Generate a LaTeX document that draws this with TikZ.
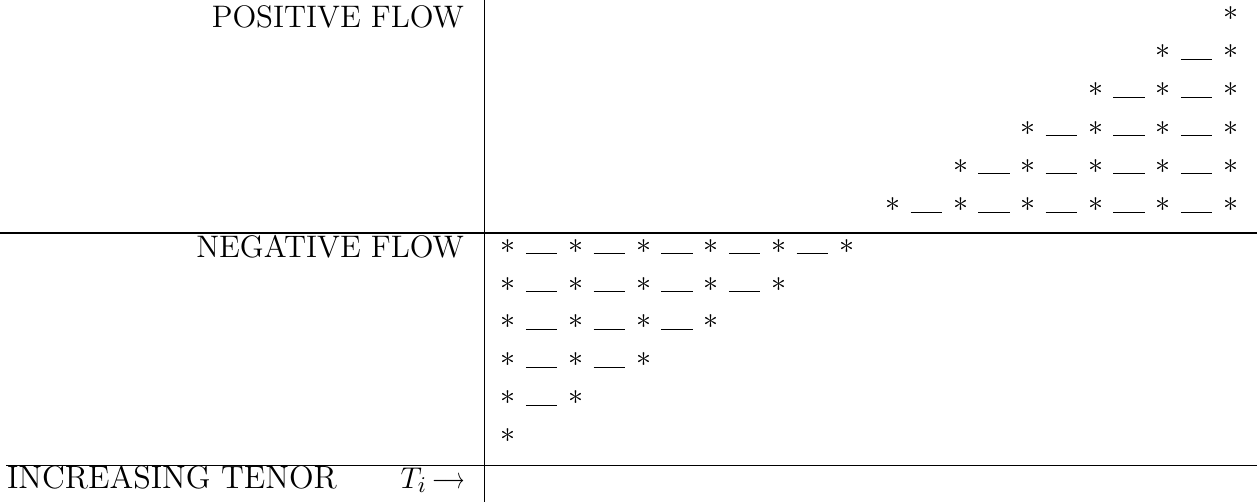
\documentclass[tikz,border=0pt]{standalone}
\usepackage{graphicx}
\begin{document}
\begin{tikzpicture}[x=0.4pt,y=-0.4pt,
  every node/.style={inner sep=0pt, outer sep=0pt, font=\fontsize{12}{14.4}\selectfont},
  label/.style={font=\fontsize{12.45}{15}\selectfont},
  starmark/.style={anchor=base},
  tablerule/.style={line width=0.6pt},
  blank/.style={line width=0.42pt}]
\useasboundingbox (0,0) rectangle (1257,502);
% table rules
\draw[tablerule] (484.3,0) -- (484.3,502);
\draw[tablerule] (0,233) -- (1257,233);
\draw[tablerule] (6,465.5) -- (1257,465.5);
% labels
\node[label, anchor=base east] (pos) at (464,27) {POSITIVE FLOW};
\node[label, anchor=base east] (neg) at (464,257) {NEGATIVE FLOW};
\node[anchor=base west, font=\fontsize{12.9}{15}\selectfont] (inc) at (7,488)
  {INCREASING TENOR\hspace{25.5pt}$T_i$\,\scalebox{0.68}[1]{$\longrightarrow$}};
% positive flow rows
\foreach \i in {1,...,6} {
  \pgfmathsetmacro\yy{12.7+38.3*(\i-1)}
  \pgfmathsetmacro\dy{floor(\yy+8)+0.5}
  \foreach \k in {1,...,\i} {
    \pgfmathsetmacro\xx{1231-67.6*(\k-1)}
    \node[starmark] (p\i-\k) at (\xx,\yy+7.5) {$*$};
  }
  \ifnum\i>1
    \pgfmathtruncatemacro\nm{\i-1}
    \foreach \k in {1,...,\nm} {
      \pgfmathsetmacro\xx{1231-67.6*\k}
      \draw[blank] (\xx+17.5,\dy) -- (\xx+49,\dy);
    }
  \fi
}
% negative flow rows
\foreach \j in {0,...,5} {
  \pgfmathsetmacro\yy{245.7+37.85*\j}
  \pgfmathsetmacro\dy{floor(\yy+8)+0.5}
  \pgfmathtruncatemacro\n{6-\j}
  \foreach \k in {1,...,\n} {
    \pgfmathsetmacro\xx{508.3+67.7*(\k-1)}
    \node[starmark] (n\j-\k) at (\xx,\yy+7.5) {$*$};
  }
  \ifnum\n>1
    \pgfmathtruncatemacro\nm{\n-1}
    \foreach \k in {1,...,\nm} {
      \pgfmathsetmacro\xx{508.3+67.7*(\k-1)}
      \draw[blank] (\xx+17.5,\dy) -- (\xx+49,\dy);
    }
  \fi
}
\end{tikzpicture}
\end{document}
